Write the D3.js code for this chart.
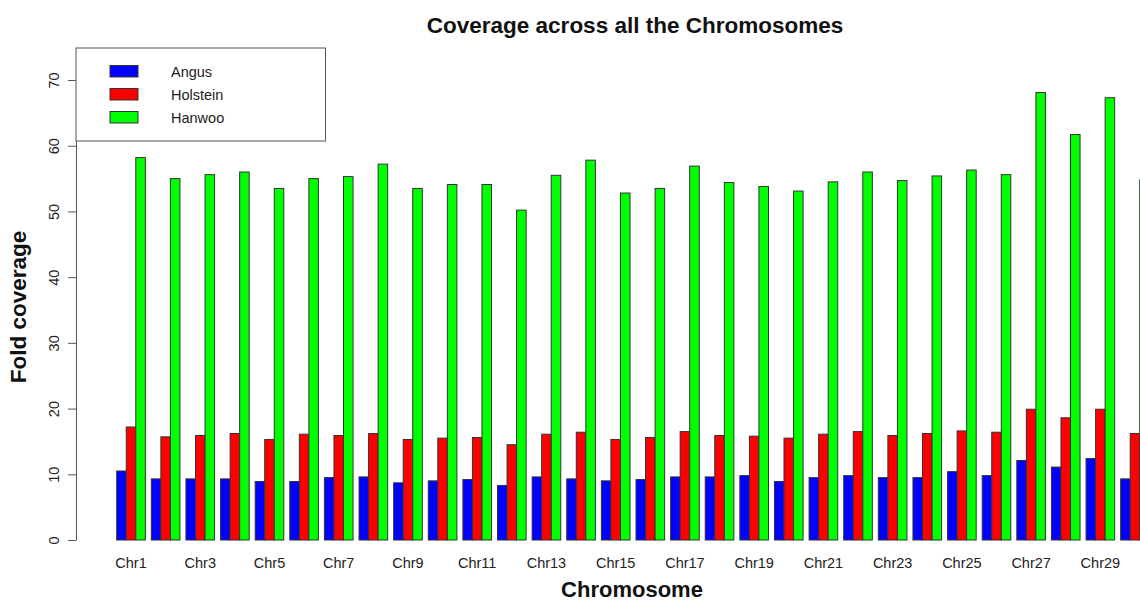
<!DOCTYPE html>
<html>
<head>
<meta charset="utf-8">
<script src="https://cdn.jsdelivr.net/npm/d3@7"></script>
<style>
  body { margin: 0; background: #fff; }
  svg { display: block; font-family: "Liberation Sans", Arial, sans-serif; }
</style>
</head>
<body>
<svg id="chart" width="1140" height="601"></svg>
<script>
'use strict';

var chromosomes = d3.range(1, 31).map(function(i) { return 'Chr' + i; });
var breeds = ['Angus', 'Holstein', 'Hanwoo'];
var colors = ['#0000ff', '#ff0000', '#00ff00'];

var angus = [10.5, 9.3, 9.3, 9.3, 8.9, 8.9, 9.5, 9.6, 8.7, 9.0,
             9.2, 8.3, 9.6, 9.3, 9.0, 9.2, 9.6, 9.6, 9.8, 8.9,
             9.5, 9.8, 9.5, 9.5, 10.4, 9.8, 12.1, 11.1, 12.4, 9.3];
var holstein = [17.2, 15.7, 15.9, 16.2, 15.3, 16.1, 15.9, 16.2, 15.3, 15.5,
                15.6, 14.5, 16.1, 16.4, 15.3, 15.6, 16.5, 15.9, 15.8, 15.5,
                16.1, 16.5, 15.9, 16.2, 16.6, 16.4, 19.9, 18.6, 19.9, 16.2];
var hanwoo = [58.2, 55.0, 55.6, 56.0, 53.5, 55.0, 55.3, 57.2, 53.5, 54.1,
              54.1, 50.2, 55.5, 57.8, 52.8, 53.5, 56.9, 54.4, 53.8, 53.1,
              54.5, 56.0, 54.7, 55.4, 56.3, 55.6, 68.1, 61.7, 67.3, 54.8];
var yTicks = [0, 10, 20, 30, 40, 50, 60, 70];

var series = [angus, holstein, hanwoo];
var data = chromosomes.map(function(c, i) {
  return { name: c, values: series.map(function(s) { return s[i]; }) };
});

var svg = d3.select('#chart');
var axisX = 76, baseY = 540;

// group scale: first group starts at 116.7, step ~34.6
var x0 = d3.scaleBand()
  .domain(chromosomes)
  .range([116.7, 116.7 + 30 * 34.62 - 6])
  .paddingInner(0.173)
  .paddingOuter(0);
var x1 = d3.scaleBand().domain(d3.range(3)).range([0, x0.bandwidth()]);
var y = d3.scaleLinear().domain([0, 70]).range([baseY, 80]);

// bars
var groups = svg.append('g').selectAll('g')
  .data(data)
  .enter().append('g')
    .attr('transform', function(d) { return 'translate(' + x0(d.name) + ',0)'; });

groups.selectAll('rect')
  .data(function(d) { return d.values; })
  .enter().append('rect')
    .attr('x', function(d, i) { return x1(i); })
    .attr('width', x1.bandwidth())
    .attr('y', function(d) { return y(d); })
    .attr('height', function(d) { return baseY - y(d); })
    .attr('fill', function(d, i) { return colors[i]; })
    .attr('stroke', '#333')
    .attr('stroke-width', 1);

// y axis
var yAxis = svg.append('g')
  .attr('transform', 'translate(' + axisX + ',0)')
  .call(d3.axisLeft(y).tickValues(yTicks).tickSize(8).tickSizeOuter(0));
yAxis.select('.domain').attr('stroke', '#555');
yAxis.selectAll('.tick line').attr('stroke', '#555');
yAxis.selectAll('.tick text')
  .attr('font-size', 14.5)
  .attr('fill', '#222')
  .attr('font-family', '"Liberation Sans", Arial, sans-serif')
  .attr('text-anchor', 'middle')
  .attr('transform', 'rotate(-90)')
  .attr('x', 0)
  .attr('y', -17)
  .attr('dy', 0);

// x labels, every other one like R drops overlaps
svg.append('g').selectAll('text')
  .data(chromosomes.filter(function(c, i) { return i % 2 === 0; }))
  .enter().append('text')
    .attr('x', function(d) { return x0(d) + x0.bandwidth() / 2; })
    .attr('y', 568)
    .attr('text-anchor', 'middle')
    .attr('font-size', 14.5)
    .attr('fill', '#222')
    .text(function(d) { return d; });

// titles
svg.append('text')
  .attr('x', 635).attr('y', 33)
  .attr('text-anchor', 'middle')
  .attr('font-size', 22.5).attr('font-weight', 'bold')
  .attr('fill', '#111')
  .text('Coverage across all the Chromosomes');

svg.append('text')
  .attr('x', 632).attr('y', 597)
  .attr('text-anchor', 'middle')
  .attr('font-size', 22).attr('font-weight', 'bold')
  .attr('fill', '#111')
  .text('Chromosome');

svg.append('text')
  .attr('transform', 'translate(26,307) rotate(-90)')
  .attr('text-anchor', 'middle')
  .attr('font-size', 22.5).attr('font-weight', 'bold')
  .attr('fill', '#111')
  .text('Fold coverage');

// legend
var legend = svg.append('g');
legend.append('rect')
  .attr('x', 76).attr('y', 48)
  .attr('width', 249.5).attr('height', 93)
  .attr('fill', '#fff')
  .attr('stroke', '#555');

var items = legend.selectAll('g.item')
  .data(breeds)
  .enter().append('g')
    .attr('class', 'item')
    .attr('transform', function(d, i) { return 'translate(0,' + (65.5 + i * 23) + ')'; });
items.append('rect')
  .attr('x', 110).attr('y', 0)
  .attr('width', 28).attr('height', 11.5)
  .attr('fill', function(d, i) { return colors[i]; })
  .attr('stroke', '#333');
items.append('text')
  .attr('x', 171).attr('y', 11)
  .attr('font-size', 14.5)
  .attr('fill', '#222')
  .text(function(d) { return d; });
</script>
</body>
</html>
